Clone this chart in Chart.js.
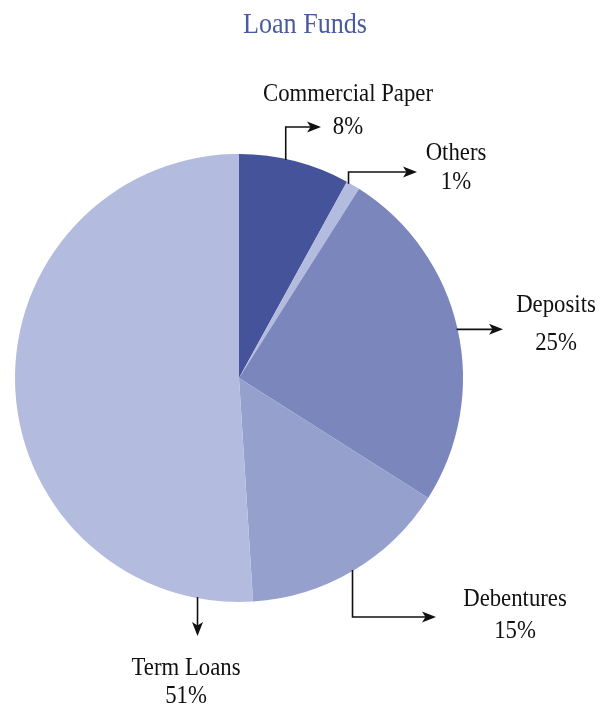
<!DOCTYPE html>
<html>
<head>
<meta charset="utf-8">
<title>Loan Funds</title>
<script src="https://cdn.jsdelivr.net/npm/chart.js@4.4.1/dist/chart.umd.min.js"></script>
<style>
    html, body { margin: 0; padding: 0; background: #ffffff; }
    #wrap { position: relative; width: 603px; height: 707px; }
</style>
</head>
<body>
<div id="wrap"><canvas id="loanChart"></canvas></div>
<script>
// Chart data
const categories = ['Commercial Paper', 'Others', 'Deposits', 'Debentures', 'Term Loans'];
const shares = [8, 1, 25, 15, 51];
const sliceColors = ['#45549a', '#b3bbdf', '#7b86bd', '#95a0cd', '#b3bbdf'];

const chartTitle = 'Loan Funds';

// Where each callout sits: text centre, line baselines, and how the arrow runs
const callouts = [
    { cx: 348, lines: [101, 134], frac: 0.42, route: 'vh', elbow: 127, tip: 321 },
    { cx: 456, lines: [160, 189], frac: 0.17, route: 'vh', elbow: 172, tip: 417 },
    { cx: 556, lines: [312, 350], frac: 0.5,  route: 'h',  tip: 503 },
    { cx: 515, lines: [606, 638], frac: 0.5,  route: 'vh', elbow: 617, tip: 436 },
    { cx: 186, lines: [675, 703], frac: 0.078, route: 'v', tip: 636 }
];

const serif = '"Liberation Serif", "DejaVu Serif", serif';

function drawNarrowText(ctx, text, x, y, squeeze) {
    ctx.save();
    ctx.translate(x, y);
    ctx.scale(squeeze, 1);
    ctx.fillText(text, 0, 0);
    ctx.restore();
}

function arrowHead(ctx, x, y, dir) {
    // dir: 'right' or 'down'
    const len = 14, half = 5.5;
    ctx.beginPath();
    if (dir === 'right') {
        ctx.moveTo(x, y);
        ctx.lineTo(x - len, y - half);
        ctx.lineTo(x - len * 0.75, y);
        ctx.lineTo(x - len, y + half);
    } else {
        ctx.moveTo(x, y);
        ctx.lineTo(x - half, y - len);
        ctx.lineTo(x, y - len * 0.75);
        ctx.lineTo(x + half, y - len);
    }
    ctx.closePath();
    ctx.fill();
}

// Title, callout text and arrows
const calloutPlugin = {
    id: 'callouts',
    afterDraw(chart) {
        const ctx = chart.ctx;
        const arcs = chart.getDatasetMeta(0).data;

        ctx.save();
        ctx.textAlign = 'center';
        ctx.textBaseline = 'alphabetic';

        ctx.fillStyle = '#4a5a9e';
        ctx.font = '30px ' + serif;
        drawNarrowText(ctx, chartTitle, 305, 33, 0.87);

        ctx.fillStyle = '#111111';
        ctx.strokeStyle = '#111111';
        ctx.lineWidth = 1.6;

        callouts.forEach((c, i) => {
            const arc = arcs[i];
            const a = arc.startAngle + c.frac * (arc.endAngle - arc.startAngle);
            const ax = arc.x + (arc.outerRadius - 1) * Math.cos(a);
            const ay = arc.y + (arc.outerRadius - 1) * Math.sin(a);

            ctx.beginPath();
            if (c.route === 'vh') {
                ctx.moveTo(ax, ay);
                ctx.lineTo(ax, c.elbow);
                ctx.lineTo(c.tip - 8, c.elbow);
                ctx.stroke();
                arrowHead(ctx, c.tip, c.elbow, 'right');
            } else if (c.route === 'h') {
                ctx.moveTo(ax, ay);
                ctx.lineTo(c.tip - 8, ay);
                ctx.stroke();
                arrowHead(ctx, c.tip, ay, 'right');
            } else {
                ctx.moveTo(ax, ay);
                ctx.lineTo(ax, c.tip - 8);
                ctx.stroke();
                arrowHead(ctx, ax, c.tip, 'down');
            }

            ctx.font = '25px ' + serif;
            drawNarrowText(ctx, categories[i], c.cx, c.lines[0], 0.91);
            drawNarrowText(ctx, shares[i] + '%', c.cx, c.lines[1], 0.91);
        });
        ctx.restore();
    }
};

new Chart(document.getElementById('loanChart'), {
    type: 'pie',
    data: {
        labels: categories,
        datasets: [{
            data: shares,
            backgroundColor: sliceColors,
            borderWidth: 0
        }]
    },
    options: {
        responsive: true,
        maintainAspectRatio: false,
        animation: false,
        layout: {
            padding: { left: 15, right: 140, top: 154, bottom: 105 }
        },
        plugins: {
            legend: { display: false },
            title: { display: false },
            tooltip: { enabled: false }
        }
    },
    plugins: [calloutPlugin]
});
</script>
</body>
</html>
